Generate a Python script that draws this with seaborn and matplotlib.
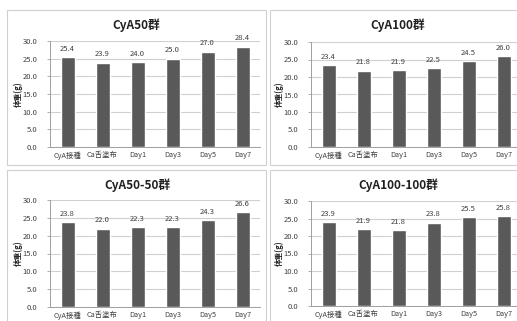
import matplotlib
matplotlib.use("Agg")
import matplotlib.pyplot as plt
import pandas as pd
import seaborn as sns
from matplotlib.patches import Rectangle

# data
categories = ['CyA接種', 'Ca舌塗布', 'Day1', 'Day3', 'Day5', 'Day7']
titles = ['CyA50群', 'CyA100群', 'CyA50-50群', 'CyA100-100群']
cya50 = [25.4, 23.9, 24.0, 25.0, 27.0, 28.4]
cya100 = [23.4, 21.8, 21.9, 22.5, 24.5, 26.0]
cya50_50 = [23.8, 22.0, 22.3, 22.3, 24.3, 26.6]
cya100_100 = [23.9, 21.9, 21.8, 23.8, 25.5, 25.8]
series = [cya50, cya100, cya50_50, cya100_100]
yticks = [0, 5, 10, 15, 20, 25, 30]

sns.set_style('white')
plt.rcParams['font.family'] = ['Noto Sans CJK JP', 'DejaVu Sans']

W, H = 517, 321
fig = plt.figure(figsize=(W / 100, H / 100), dpi=100)

def fx(x):
    return x / W

def fy(y):
    return 1 - y / H

# panel boxes (pixels): left, top, right, bottom
boxes = [(7, 10, 266, 165), (270, 10, 530, 165), (7, 170, 266, 330), (270, 170, 530, 330)]
# axes areas (pixels): left, top(30), right, bottom(0)
areas = [(50, 41, 260, 147), (311, 42, 521, 147), (50, 200, 260, 307), (311, 201, 521, 306)]
title_pos = [(136, 25), (398, 25), (137, 185), (398, 185)]

for (bl, bt, br, bb) in boxes:
    fig.patches.append(Rectangle((fx(bl), fy(bb)), (br - bl) / W, (bb - bt) / H,
                                 transform=fig.transFigure, fill=False,
                                 edgecolor='#d0d0d0', linewidth=0.8))

for i in range(4):
    l, t, r, b = areas[i]
    ax = fig.add_axes([fx(l), fy(b), (r - l) / W, (b - t) / H])
    df = pd.DataFrame({'cat': categories, 'val': series[i]})
    sns.barplot(data=df, x='cat', y='val', color='#595959', width=0.4,
                saturation=1, ax=ax)
    ax.set_ylim(0, 30)
    ax.set_xlim(-0.5, 5.5)
    ax.set_yticks(yticks)
    ax.set_yticklabels([f'{v:.1f}' for v in yticks], fontsize=5.5, color='#404040')
    ax.tick_params(axis='x', labelsize=5.3, colors='#404040', length=0, pad=3)
    ax.tick_params(axis='y', length=2, width=0.6, color='#a0a0a0', pad=7, left=True)
    ax.yaxis.grid(True, color='#d0d0d0', linewidth=0.8)
    ax.set_axisbelow(True)
    for s in ['top', 'right']:
        ax.spines[s].set_visible(False)
    for s in ['left', 'bottom']:
        ax.spines[s].set_color('#a0a0a0')
        ax.spines[s].set_linewidth(0.7)
    ax.set_xlabel('')
    ax.set_ylabel('体重(g)', fontsize=5.5, fontweight='bold', labelpad=0)
    for j, v in enumerate(series[i]):
        ax.text(j, v + 1.2, f'{v:.1f}', ha='center', va='bottom', fontsize=5.5, color='#404040')
    tx, ty = title_pos[i]
    fig.text(fx(tx), fy(ty), titles[i], ha='center', va='center',
             fontsize=8.5, fontweight='bold', color='#202020')

fig.savefig('out.png', dpi=100)
